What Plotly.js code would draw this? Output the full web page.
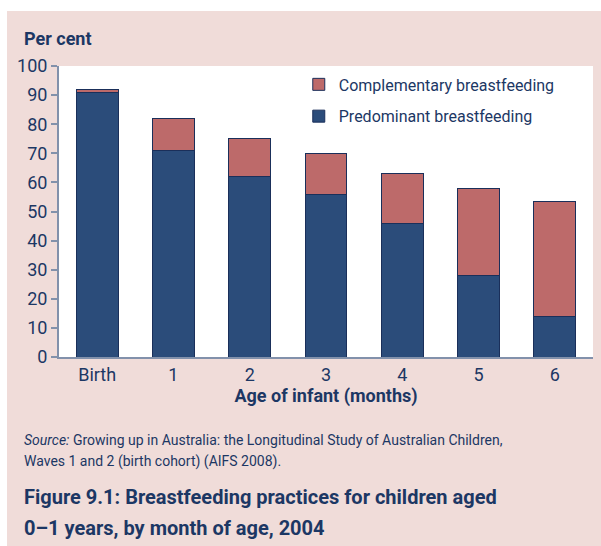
<!DOCTYPE html>
<html>
<head>
<meta charset="utf-8">
<script src="https://cdn.plot.ly/plotly-3.0.1.min.js"></script>
<style>html,body{margin:0;padding:0;background:#fff;}</style>
</head>
<body>
<div id="chart" style="width:601px;height:546px;"></div>
<script>
const categories = ["Birth", "1", "2", "3", "4", "5", "6"];
const predominant = [91, 71, 62, 56, 46, 28, 14];
const complementary = [1, 11, 13, 14, 17, 30, 39.6];
const yTicks = [0, 10, 20, 30, 40, 50, 60, 70, 80, 90, 100];

const FONT = "Roboto, sans-serif";
const NAVY = "#1c3764";
const PINK = "#f0dcd9";

const traces = [
  {
    type: "bar", name: "Predominant breastfeeding", legendgroup: "pre", legendrank: 2,
    x: categories, y: predominant,
    marker: {color: "#2b4c7a", line: {color: "#1a2f5a", width: 1}}
  },
  {
    type: "bar", name: "Complementary breastfeeding", legendgroup: "comp", legendrank: 1,
    x: categories, y: complementary,
    marker: {color: "#bd6a6a", line: {color: "#1a2f5a", width: 1}}
  }
];

const layout = {
  width: 601, height: 546,
  margin: {l: 59, r: 8, t: 66, b: 189},
  paper_bgcolor: PINK,
  plot_bgcolor: "#ffffff",
  barmode: "stack",
  bargap: 0.45,
  font: {family: FONT, color: NAVY, size: 17},
  showlegend: true,
  legend: {
    x: 0.449, y: 0.995, xanchor: "left", yanchor: "top",
    bgcolor: "rgba(0,0,0,0)", traceorder: "grouped", tracegroupgap: 8,
    font: {family: FONT, size: 16, color: NAVY}
  },
  xaxis: {
    type: "category",
    showline: true, linecolor: "#8291ab", linewidth: 2,
    ticks: "", showgrid: false, zeroline: false,
    tickfont: {family: FONT, size: 18, color: NAVY},
    title: {text: "<b>Age of infant (months)</b>", font: {family: FONT, size: 18, color: NAVY}, standoff: 4}
  },
  yaxis: {
    range: [0, 100], tickvals: yTicks, ticktext: yTicks.map(String),
    showline: true, linecolor: "#8291ab", linewidth: 2,
    ticks: "outside", ticklen: 6, tickcolor: "#8291ab", tickwidth: 2,
    showgrid: false, zeroline: false,
    tickfont: {family: FONT, size: 18, color: NAVY}
  },
  shapes: [
    {type: "rect", xref: "paper", yref: "paper", x0: -0.12, x1: 1.02, y0: 1.1890, y1: 1.24,
     fillcolor: "#ffffff", line: {width: 0}},
    {type: "rect", xref: "paper", yref: "paper", x0: -0.12, x1: -0.0974, y0: -0.7, y1: 1.24,
     fillcolor: "#ffffff", line: {width: 0}}
  ],
  annotations: [
    {text: "<b>Per cent</b>", xref: "paper", yref: "paper", x: -0.0695, y: 1.096,
     xanchor: "left", yanchor: "middle", showarrow: false, font: {family: FONT, size: 18, color: NAVY}},
    {text: "<i>Source:</i> Growing up in Australia: the Longitudinal Study of Australian Children,",
     xref: "paper", yref: "paper", x: -0.0695, y: -0.2852, xanchor: "left", yanchor: "middle", align: "left",
     showarrow: false, font: {family: FONT, size: 14, color: NAVY}},
    {text: "Waves 1 and 2 (birth cohort) (AIFS 2008).",
     xref: "paper", yref: "paper", x: -0.0695, y: -0.3574, xanchor: "left", yanchor: "middle", align: "left",
     showarrow: false, font: {family: FONT, size: 14, color: NAVY}},
    {text: "<b>Figure 9.1: Breastfeeding practices for children aged</b>",
     xref: "paper", yref: "paper", x: -0.0695, y: -0.4811, xanchor: "left", yanchor: "middle", align: "left",
     showarrow: false, font: {family: FONT, size: 20, color: NAVY}},
    {text: "<b>0–1 years, by month of age, 2004</b>",
     xref: "paper", yref: "paper", x: -0.0695, y: -0.5876, xanchor: "left", yanchor: "middle", align: "left",
     showarrow: false, font: {family: FONT, size: 20, color: NAVY}}
  ]
};

Plotly.newPlot("chart", traces, layout, {displayModeBar: false, staticPlot: true});
</script>
</body>
</html>
